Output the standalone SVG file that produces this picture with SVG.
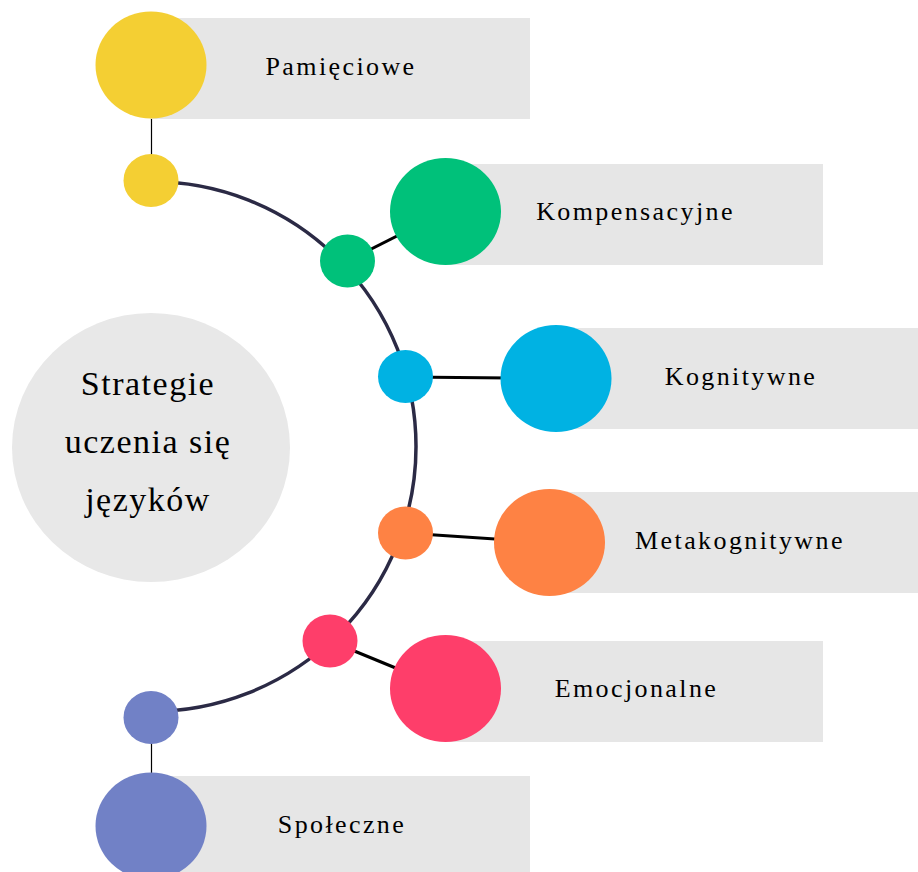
<svg xmlns="http://www.w3.org/2000/svg" width="918" height="872" viewBox="0 0 918 872">
<style>
.bar{fill:#e6e6e6}
.lbl{font-size:26px;letter-spacing:2.4px;fill:#000;text-anchor:middle}
.ctr{font-size:34px;letter-spacing:1.5px;fill:#000;text-anchor:middle}
.arc{fill:none;stroke:#2b2a45;stroke-width:3.5}
.link{stroke:#000;stroke-width:3}
.stem{stroke:#000;stroke-width:1.2}
</style>
<rect width="918" height="872" fill="#fff"/>
<g id="connectors">
<path class="arc" d="M151,181.5 A265,265 0 0 1 151,711.5"/>
<line class="stem" x1="151.5" y1="110" x2="151.5" y2="160"/>
<line class="stem" x1="151.5" y1="735" x2="151.5" y2="780"/>
<line class="link" x1="347.5" y1="261" x2="445.5" y2="211.5"/>
<line class="link" x1="405.5" y1="377" x2="556" y2="378.5"/>
<line class="link" x1="405.5" y1="533" x2="549.5" y2="542.5"/>
<line class="link" x1="330" y1="641" x2="445.5" y2="688.5"/>
</g>
<g id="center">
<ellipse cx="151" cy="447.5" rx="139" ry="134.5" fill="#e8e8e8"/>
<text class="ctr" font-family="Liberation Serif" x="148" y="395">Strategie</text>
<text class="ctr" font-family="Liberation Serif" x="148" y="453">uczenia się</text>
<text class="ctr" font-family="Liberation Serif" x="148" y="511">języków</text>
</g>
<g id="pamieciowe">
<rect class="bar" x="151" y="18" width="379" height="101"/>
<ellipse cx="151" cy="65" rx="55.5" ry="53.5" fill="#f4cf33"/>
<ellipse cx="151" cy="180.5" rx="27.5" ry="26.5" fill="#f4cf33"/>
<text class="lbl" font-family="Liberation Serif" x="341" y="75">Pamięciowe</text>
</g>
<g id="kompensacyjne">
<rect class="bar" x="445.5" y="164" width="377.5" height="101"/>
<ellipse cx="445.5" cy="211.5" rx="55.5" ry="53.5" fill="#00c17a"/>
<ellipse cx="347.5" cy="261" rx="27.5" ry="26.5" fill="#00c17a"/>
<text class="lbl" font-family="Liberation Serif" x="635.5" y="220">Kompensacyjne</text>
</g>
<g id="kognitywne">
<rect class="bar" x="556" y="328" width="362" height="101"/>
<ellipse cx="556" cy="378.5" rx="55.5" ry="53.5" fill="#00b2e3"/>
<ellipse cx="405.5" cy="376.5" rx="27.5" ry="26.5" fill="#00b2e3"/>
<text class="lbl" font-family="Liberation Serif" x="741" y="385">Kognitywne</text>
</g>
<g id="metakognitywne">
<rect class="bar" x="549.5" y="492" width="368.5" height="101"/>
<ellipse cx="549.5" cy="542.5" rx="55.5" ry="53.5" fill="#fe8244"/>
<ellipse cx="405.5" cy="533" rx="27.5" ry="26.5" fill="#fe8244"/>
<text class="lbl" font-family="Liberation Serif" x="740" y="548.5">Metakognitywne</text>
</g>
<g id="emocjonalne">
<rect class="bar" x="445.5" y="641" width="377.5" height="101"/>
<ellipse cx="445.5" cy="688.5" rx="55.5" ry="53.5" fill="#fe3e6a"/>
<ellipse cx="330" cy="641" rx="27.5" ry="26.5" fill="#fe3e6a"/>
<text class="lbl" font-family="Liberation Serif" x="636.5" y="697">Emocjonalne</text>
</g>
<g id="spoleczne">
<rect class="bar" x="151" y="776" width="379" height="101"/>
<ellipse cx="151" cy="826" rx="55.5" ry="53.5" fill="#7181c6"/>
<ellipse cx="151" cy="717.5" rx="27.5" ry="26.5" fill="#7181c6"/>
<text class="lbl" font-family="Liberation Serif" x="342" y="833">Społeczne</text>
</g>
</svg>
